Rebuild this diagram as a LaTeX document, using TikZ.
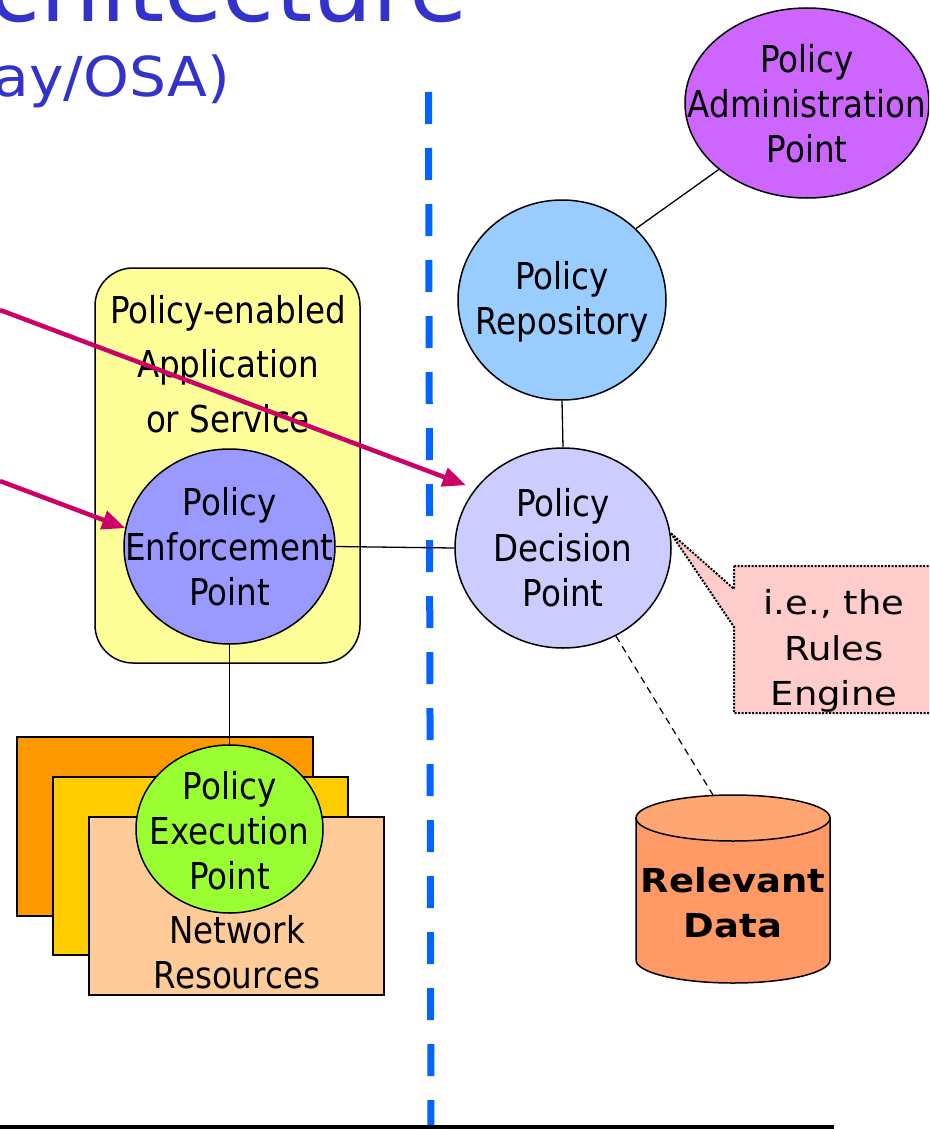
\documentclass[tikz,border=0pt]{standalone}
\usepackage{fontspec}
\setmainfont{DejaVu Sans}
\newfontfamily\narrowsans[FakeStretch=0.88]{DejaVu Sans}
\newfontfamily\widesans[FakeStretch=1.12]{DejaVu Sans}
\newfontfamily\headsans[FakeStretch=1.06]{DejaVu Sans}
\usetikzlibrary{shapes.geometric,arrows.meta}

\definecolor{titleblue}{HTML}{3333CC}
\definecolor{divblue}{HTML}{0066FF}
\definecolor{arrowpink}{HTML}{CC0066}
\definecolor{papfill}{HTML}{CC66FF}
\definecolor{repofill}{HTML}{99CCFF}
\definecolor{pdpfill}{HTML}{CCCCFF}
\definecolor{pepfill}{HTML}{9999FF}
\definecolor{appfill}{HTML}{FFFF99}
\definecolor{execfill}{HTML}{99FF33}
\definecolor{resA}{HTML}{FF9900}
\definecolor{resB}{HTML}{FFCC00}
\definecolor{resC}{HTML}{FFCC99}
\definecolor{notefill}{HTML}{FFCCCC}
\definecolor{dbbody}{HTML}{FF9966}
\definecolor{dbtop}{HTML}{FFA673}

\tikzset{
  lbl/.style={font=\narrowsans\fontsize{37}{45}\selectfont, align=center, inner sep=0pt},
  bubble/.style={ellipse, draw, line width=1.5pt, inner sep=0pt},
  link/.style={draw, line width=1.3pt},
  pinkarrow/.style={draw=arrowpink, line width=4.5pt,
    -{Triangle[length=23pt,width=19pt]}},
  resbox/.style={draw, line width=1.8pt},
}

\begin{document}
\begin{tikzpicture}[x=1pt,y=-1pt]
\useasboundingbox (0,0) rectangle (929,1129);
\clip (0,0) rectangle (929,1129);

% heading, running off the top-left corner
\node[anchor=base east, inner sep=0pt, text=titleblue,
      font=\fontsize{95}{100}\selectfont] (heading) at (468,22) {Architecture};
\node[anchor=base east, inner sep=0pt, text=titleblue,
      font=\headsans\fontsize{55}{60}\selectfont] (subheading) at (230,97) {(Parlay/OSA)};

% divider between application side and policy side
\coordinate (divtop) at (428.5,92);
\coordinate (divbot) at (431,1135);
\draw[divblue, line width=7pt, dash pattern=on 32pt off 24pt] (divtop) -- (divbot);

% bottom rule
\coordinate (ruleL) at (0,1127);
\coordinate (ruleR) at (834,1127);
\draw[line width=3.5pt] (ruleL) -- (ruleR);

% application container
\node[draw, line width=1.5pt, fill=appfill, rounded corners=38pt,
      minimum width=265pt, minimum height=395pt, inner sep=0pt] (app) at (227.5,465.5) {};
\node[lbl, font=\narrowsans\fontsize{37}{54.5}\selectfont] (apptext) at (228,364)
  {Policy-enabled\\Application\\or Service};

% network resources stack
\node[resbox, fill=resA, minimum width=296pt, minimum height=179pt, inner sep=0pt] (resa) at (165,826.5) {};
\node[resbox, fill=resB, minimum width=295pt, minimum height=178pt, inner sep=0pt] (resb) at (200.5,866) {};
\node[resbox, fill=resC, minimum width=295pt, minimum height=178pt, inner sep=0pt] (resc) at (236.5,906) {};
\node[lbl] (restext) at (237,952) {Network\\Resources};

% policy bubbles
\node[bubble, fill=pepfill, minimum width=211pt, minimum height=195pt] (pep) at (229.5,546.5) {};
\node[lbl] (peptext) at (pep) {Policy\\Enforcement\\Point};

\draw[link] (pep.south) -- (229.5,745);
\node[bubble, fill=execfill, minimum width=187pt, minimum height=168pt] (exec) at (229.5,829) {};
\node[lbl] (exectext) at (229.5,831) {Policy\\Execution\\Point};

\node[bubble, fill=papfill, minimum width=244pt, minimum height=190pt] (pap) at (807,103) {};
\node[lbl] (paptext) at (807,104) {Policy\\Administration\\Point};

\node[bubble, fill=repofill, minimum width=208pt, minimum height=200pt] (repo) at (562,300) {};
\node[lbl] (repotext) at (562,302) {Policy\\Repository};

\node[bubble, fill=pdpfill, minimum width=216pt, minimum height=200pt] (pdp) at (563,548) {};
\node[lbl] (pdptext) at (pdp) {Policy\\Decision\\Point};

% connectors between policy components
\draw[link] (pap.217) -- (repo.44);
\draw[link] (repo.south) -- (pdp.north);
\draw[link] (pep.east) -- (pdp.west);

% rules engine note
\path[fill=notefill, draw, line width=2pt, dash pattern=on 2pt off 1.5pt]
  (734,566) -- (940,566) -- (940,713) -- (734,713) -- (734,627) -- (pdp.8) -- (734,589) -- cycle;
\node[font=\widesans\fontsize{33}{45.5}\selectfont, align=center, inner sep=0pt] (note) at (834,651)
  {i.e., the\\Rules\\Engine};

% relevant data store
\coordinate (datatop) at (713,795);
\filldraw[fill=dbbody, line width=1.5pt]
  (636,818) -- (636,960) arc[start angle=180, end angle=360, x radius=97pt, y radius=23pt]
  -- (830,818) -- cycle;
\filldraw[fill=dbtop, line width=1.5pt] (733,818) ellipse[x radius=97pt, y radius=23pt];
\node[font=\widesans\bfseries\fontsize{33}{45}\selectfont, align=center, inner sep=0pt] (data) at (733,903)
  {Relevant\\Data};
\draw[line width=1.2pt, dash pattern=on 7pt off 5pt] (pdp.301) -- (datatop);

% incoming arrows from the left
\coordinate (srcA) at (0,310);
\coordinate (srcB) at (0,481);
\draw[pinkarrow, shorten >=10pt] (srcA) -- (pdp.146);
\draw[pinkarrow] (srcB) -- (pep.170);
\end{tikzpicture}
\end{document}
